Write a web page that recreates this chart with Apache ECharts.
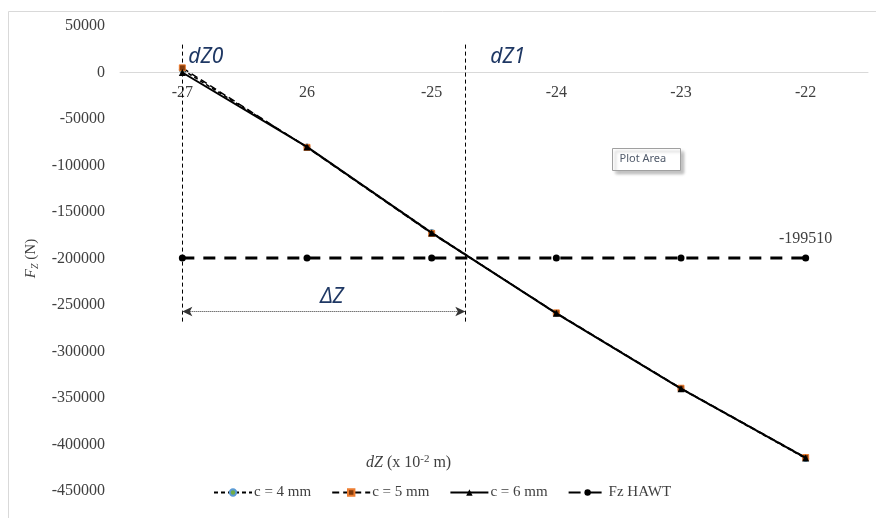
<!DOCTYPE html>
<html>
<head>
<meta charset="utf-8">
<script src="https://cdn.jsdelivr.net/npm/echarts@6/dist/echarts.min.js"></script>
<style>
  html, body { margin: 0; padding: 0; background: #fff; }
  #main { width: 876px; height: 518px; }
</style>
</head>
<body>
<div id="main"></div>
<script>
// 横坐标（原图第二个标签就是 "26"）
const categories = ["-27", "26", "-25", "-24", "-23", "-22"];
const c4 = [3000, -80000, -172000, -259000, -340000, -415000];
const c5 = [5000, -80500, -173000, -258500, -339500, -414000];
const c6 = [0, -80000, -172500, -259000, -340000, -414500];
const fzHawt = [-199510, -199510, -199510, -199510, -199510, -199510];

// 标注线位置（隐藏数值轴，类目中心 = 序号 + 0.5）
const dZ0 = 0.5;
const dZ1 = 2.77;
const markTop = 30000;
const markBottom = -268000;
const arrowY = -257000;

const serif = "Liberation Serif";
const noteColor = "#1f3864";

let myChart = echarts.init(document.getElementById("main"));

const option = {
	animation: false,
	backgroundColor: "#fff",
	grid: {
		left: 120,
		right: 8,
		top: 26,
		bottom: 27,
	},
	legend: {
		left: 208,
		bottom: 13,
		itemWidth: 38,
		itemHeight: 8,
		itemGap: 20,
		data: ["c = 4 mm", "c = 5 mm", "c = 6 mm", "Fz HAWT"],
		textStyle: { fontFamily: serif, fontSize: 15, color: "#404040", padding: [0, 0, 0, -3] },
	},
	title: {
		left: 361,
		top: 449,
		text: "{i|dZ} (x 10{sup|-2} m)",
		textStyle: {
			fontFamily: serif,
			fontSize: 16,
			fontWeight: "normal",
			color: "#404040",
			rich: {
				i: { fontFamily: serif, fontSize: 16, fontStyle: "italic", color: "#404040" },
				sup: { fontFamily: serif, fontSize: 11, color: "#404040", verticalAlign: "top", padding: [0, 0, 7, 0] },
			},
		},
	},
	xAxis: [
		{
			type: "category",
			data: categories,
			boundaryGap: true,
			// 把横轴移到 y = 0 处
			offset: -418.5,
			axisLine: { onZero: false, lineStyle: { color: "#d9d9d9", width: 1 } },
			axisTick: { show: false },
			axisLabel: { margin: 12, fontFamily: serif, fontSize: 16, color: "#404040" },
		},
		{
			type: "value",
			min: 0,
			max: 6,
			show: false,
		},
	],
	yAxis: {
		type: "value",
		min: -450000,
		max: 50000,
		interval: 50000,
		axisLine: { show: false },
		axisTick: { show: false },
		splitLine: { show: false },
		axisLabel: {
			margin: 15,
			fontFamily: serif,
			fontSize: 16,
			color: "#404040",
			formatter: (v) => String(v),
		},
		name: "{i|F}{sub|Z} (N)",
		nameLocation: "middle",
		nameGap: 80,
		nameTextStyle: {
			fontFamily: serif,
			fontSize: 15,
			color: "#404040",
			rich: {
				i: { fontFamily: serif, fontSize: 15, fontStyle: "italic", color: "#404040" },
				sub: { fontFamily: serif, fontSize: 10, fontStyle: "italic", color: "#404040", verticalAlign: "bottom", padding: [7, 0, 0, 0] },
			},
		},
	},
	series: [
		{
			name: "Fz HAWT",
			type: "line",
			data: fzHawt,
			symbol: "circle",
			symbolSize: 7,
			z: 3,
			lineStyle: { color: "#000", width: 3, type: [12, 9] },
			itemStyle: { color: "#000" },
			label: {
				show: true,
				position: "top",
				distance: 8,
				fontFamily: serif,
				fontSize: 16,
				color: "#404040",
				formatter: (p) => (p.dataIndex === fzHawt.length - 1 ? String(p.value) : ""),
			},
		},
		{
			name: "c = 4 mm",
			type: "line",
			data: c4,
			symbol: "circle",
			symbolSize: 6,
			z: 4,
			lineStyle: { color: "#000", width: 1.5, type: [4, 3] },
			itemStyle: { color: "#70ad47", borderColor: "#5b9bd5", borderWidth: 1 },
		},
		{
			name: "c = 5 mm",
			type: "line",
			data: c5,
			symbol: "rect",
			symbolSize: 6,
			z: 5,
			lineStyle: { color: "#000", width: 1.5, type: [7, 4] },
			itemStyle: { color: "#843c0c", borderColor: "#ed7d31", borderWidth: 1 },
		},
		{
			name: "c = 6 mm",
			type: "line",
			data: c6,
			symbol: "triangle",
			symbolSize: 7,
			z: 6,
			lineStyle: { color: "#000", width: 2 },
			itemStyle: { color: "#000" },
		},
		{
			// 辅助标注：dZ0 / dZ1 竖线与 ΔZ 箭头
			type: "line",
			xAxisIndex: 1,
			data: [],
			markLine: {
				silent: true,
				symbol: "none",
				label: { show: false },
				lineStyle: { color: "#000", width: 1, type: [4, 3] },
				data: [
					[{ coord: [dZ0, markTop] }, { coord: [dZ0, markBottom] }],
					[{ coord: [dZ1, markTop] }, { coord: [dZ1, markBottom] }],
					[
						{ coord: [dZ0, arrowY], symbol: "arrow", symbolSize: [7, 10], lineStyle: { type: [1, 1], color: "#333" } },
						{ coord: [dZ1, arrowY], symbol: "arrow", symbolSize: [7, 10] },
					],
				],
			},
			markPoint: {
				silent: true,
				symbol: "circle",
				symbolSize: 0,
				label: {
					show: true,
					fontFamily: "Noto Sans",
					fontStyle: "italic",
					fontSize: 21,
					color: noteColor,
				},
				data: [
					{ coord: [dZ0, 17000], label: { position: "right", distance: 6, formatter: "dZ0" } },
					{ coord: [dZ1, 17000], label: { position: "right", distance: 25, formatter: "dZ1" } },
					{ coord: [1.7, -241000], label: { position: "inside", formatter: "ΔZ" } },
				],
			},
		},
	],
	graphic: [
		{
			type: "rect",
			silent: true,
			z: -10,
			shape: { x: 8.5, y: 11.5, width: 900, height: 600 },
			style: { fill: "none", stroke: "#d9d9d9", lineWidth: 1 },
		},
		{
			type: "group",
			left: 612,
			top: 148,
			children: [
				{
					type: "rect",
					shape: { x: 0, y: 0, width: 68, height: 22 },
					style: {
						fill: "#fff",
						stroke: "#a0a0a0",
						lineWidth: 1,
						shadowBlur: 3,
						shadowOffsetX: 3,
						shadowOffsetY: 3,
						shadowColor: "rgba(0,0,0,0.25)",
					},
				},
				{
					type: "text",
					x: 7,
					y: 5,
					style: { text: "Plot Area", font: "11px 'Noto Sans'", fill: "#505a6a" },
				},
			],
		},
	],
};

myChart.setOption(option);
</script>
</body>
</html>
